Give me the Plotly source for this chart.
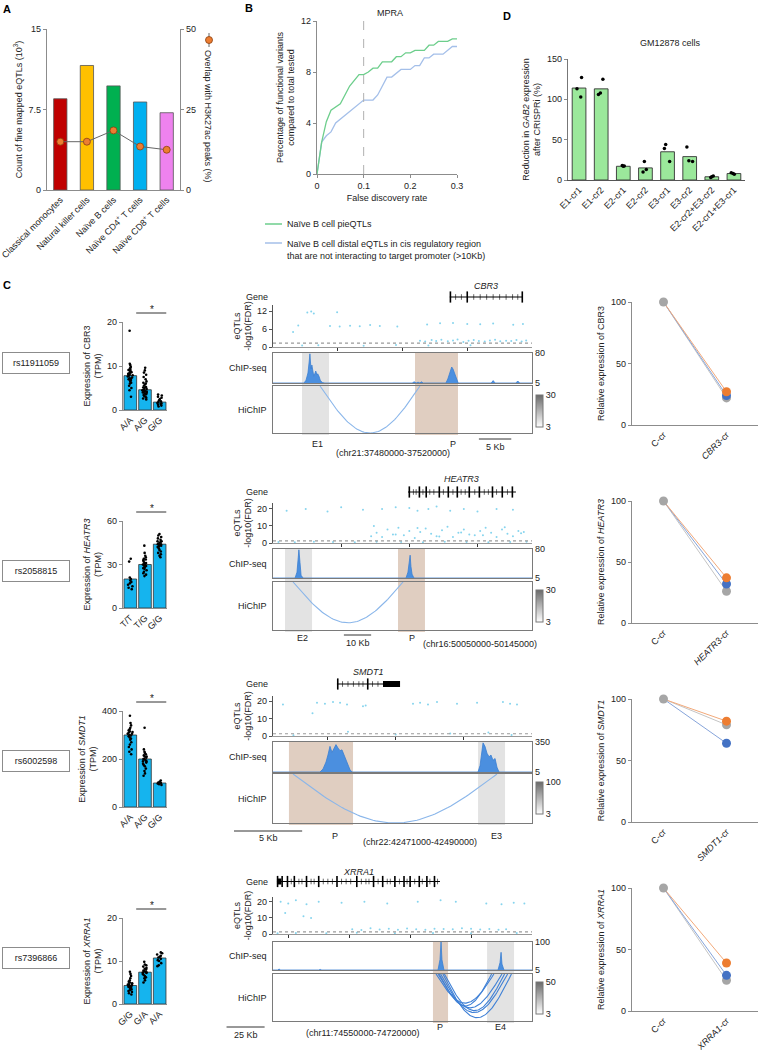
import numpy as np
import plotly.graph_objects as go

# ======================= DATA =======================
# ---- Panel A
cell_types = ["Classical monocytes", "Natural killer cells", "Naïve B cells",
              "Naïve CD4<sup>+</sup> T cells", "Naïve CD8<sup>+</sup> T cells"]
eqtl_count_k = [8.5, 11.6, 9.7, 8.2, 7.2]
h3k27ac_overlap_pct = [15.0, 15.0, 18.5, 13.5, 12.5]
cell_colors = ["#c00000", "#ffc000", "#00b050", "#00b0f0", "#ee82ee"]

# ---- Panel B (MPRA)
fdr_pie = [0, 0.01, 0.02, 0.03, 0.05, 0.07, 0.09, 0.10, 0.11, 0.12, 0.13, 0.14, 0.16,
           0.17, 0.18, 0.19, 0.20, 0.21, 0.23, 0.24, 0.25, 0.26, 0.28, 0.29, 0.30]
pct_pie = [0, 2.5, 4.1, 5.0, 5.5, 6.9, 7.8, 7.8, 8.0, 8.3, 8.3, 8.8, 8.8,
           9.2, 9.2, 9.5, 9.5, 9.7, 9.7, 10.1, 10.1, 10.4, 10.4, 10.6, 10.6]
fdr_distal = [0, 0.01, 0.02, 0.03, 0.04, 0.10, 0.12, 0.13, 0.15, 0.16, 0.18, 0.20,
              0.21, 0.22, 0.23, 0.24, 0.25, 0.27, 0.29, 0.30]
pct_distal = [0, 2.5, 3.0, 3.3, 4.0, 5.8, 5.8, 6.2, 7.6, 7.6, 8.2, 8.2,
              8.5, 8.5, 9.1, 9.1, 9.4, 9.4, 10.0, 10.0]
fdr_cutoff = 0.1

# ---- Panel D (CRISPRi)
crispri_labels = ["E1-cr1", "E1-cr2", "E2-cr1", "E2-cr2", "E3-cr1", "E3-cr2",
                  "E2-cr2+E3-cr2", "E2-cr1+E3-cr1"]
crispri_mean = [114, 113, 17, 15, 35, 29, 4, 8]
crispri_reps = [[127, 113, 103], [125, 108, 106], [18, 17, 17.5], [23, 10, 13],
                [44, 39, 23], [41, 23, 24], [5, 3, 4], [9, 7, 8]]

# ---- Panel C : eQTL genotype expression
snps = ["rs11911059", "rs2058815", "rs6002598", "rs7396866"]
genes = ["CBR3", "HEATR3", "SMDT1", "XRRA1"]
genotypes = [["A/A", "A/G", "G/G"], ["T/T", "T/G", "G/G"],
             ["A/A", "A/G", "G/G"], ["G/G", "G/A", "A/A"]]
expr_mean = [[7.8, 4.6, 1.8], [20, 30, 44], [300, 200, 100], [4.3, 7.4, 10.7]]
expr_ticks = [[0, 10, 20], [0, 30, 60], [0, 200, 400], [0, 10, 20]]
expr_points = [
    [[18, 10.5, 10.2, 9.8, 9.5, 9.2, 9.0, 8.8, 8.6, 8.4, 8.2, 8.0, 7.8, 7.6, 7.4, 7.2, 7.0,
      6.8, 6.5, 6.2, 6.0, 5.5, 5.0, 4.5, 3.0, 8.5, 7.9, 7.1, 6.9, 9.1],
     [9.6, 9.0, 8.5, 8.0, 7.5, 7.0, 6.5, 6.2, 6.0, 5.8, 5.5, 5.2, 5.0, 4.8, 4.6, 4.4, 4.2,
      4.0, 3.8, 3.6, 3.4, 3.2, 3.0, 2.8, 2.6, 2.4, 4.5, 5.1, 3.9, 4.3],
     [3.5, 3.3, 3.0, 2.5, 2.2, 2.0, 1.8, 1.6, 1.5, 1.4, 1.2, 1.0, 0.8, 2.8]],
    [[34, 32, 21, 20, 18, 17, 16, 15, 14, 13, 19],
     [43, 38, 36, 35, 34, 33, 32, 31, 30.5, 30, 29.5, 29, 28.5, 28, 27, 26, 25, 24, 23, 22,
      31, 30, 29, 27.5, 33.5],
     [51, 50, 49, 48, 47, 46, 45.5, 45, 44.5, 44, 43.5, 43, 42, 41, 40, 39, 38, 37, 36, 35,
      46, 44, 42.5]],
    [[380, 350, 340, 330, 320, 315, 310, 305, 300, 295, 290, 285, 280, 270, 260, 250, 240,
      230, 220, 305, 298, 312, 325],
     [330, 240, 230, 225, 220, 215, 210, 205, 200, 195, 190, 185, 180, 175, 170, 160, 150,
      140, 130, 200, 210, 190],
     [110, 105, 102, 100, 98, 95, 92]],
    [[7.5, 7.0, 6.5, 6.0, 5.5, 5.2, 5.0, 4.8, 4.6, 4.4, 4.2, 4.0, 3.8, 3.6, 3.4, 3.2, 3.0,
      2.8, 2.5, 2.2, 4.5, 4.1, 3.9],
     [9.8, 9.2, 9.0, 8.7, 8.4, 8.2, 8.0, 7.8, 7.6, 7.4, 7.2, 7.0, 6.8, 6.5, 6.2, 6.0, 5.5,
      5.0, 7.5, 7.3],
     [12, 11.8, 11.5, 11.2, 11.0, 10.8, 10.5, 10.2, 10.0, 9.5, 9.0, 8.8]],
]

# ---- Panel C : genomic tracks (positions in kb from region start)
regions = [("chr21", 37480000, 37520000), ("chr16", 50050000, 50145000),
           ("chr22", 42471000, 42490000), ("chr11", 74550000, 74720000)]
gene_span_kb = [(27.3, 38.6), (49.5, 89.1), (4.69, 9.32), (2.6, 109.6)]
gene_exon_kb = [[27.4, 30.0, 38.5],
                [50.0, 53.7, 56.2, 61.0, 64.3, 67.6, 72.0, 75.7, 80.5, 84.1, 87.8],
                [4.75, 6.95],
                [3.0, 6.0, 9.5, 14, 22, 30, 42, 55, 66, 72, 80, 86, 90, 96, 101, 106]]
gene_intron_kb = [[28.2, 29.1, 31.0, 32.0, 33.0, 34.0, 35.0, 36.0, 37.0, 37.8],
                  [51.5, 52.5, 55, 57.5, 59, 62.5, 66, 69, 70.5, 74, 77.5, 79, 82, 86],
                  [5.1, 5.5, 5.9, 6.3, 6.6, 7.3, 7.7],
                  [12, 17, 19, 25, 27, 33, 36, 39, 45, 48, 51, 58, 61, 63, 69, 75, 77, 83,
                   88, 93, 98, 103, 108]]
gene_thick_kb = [None, None, (8.07, 9.32), (2.6, 5.5)]

eqtl_kb = [
    [5.3, 5.9, 6.3, 9.9, 3.1, 3.9, 8.8, 10.3, 11.9, 13.4, 15.0, 16.5, 19.2, 23.8, 25.8, 27.8,
     30.0, 32.0, 34.0, 37.1, 38.6, 22.7, 23.5, 24.5, 25.2, 26.0, 27.0, 27.8, 28.5, 29.4, 30.2,
     31.0, 31.8, 32.7, 33.5, 34.3, 35.1, 36.0, 36.8, 37.6, 38.4, 39.1, 4.5, 7.0, 14.0, 19.0,
     24.0, 30.5],
    [5, 12, 20, 25, 33, 40, 45, 50, 53, 57, 60, 65, 70, 75, 82, 88,
     36, 38, 40, 42, 44, 46, 48, 50, 52, 54, 56, 58, 60, 62, 64, 66, 68, 70, 72, 74, 76, 78,
     80, 82, 84, 86, 88, 90, 92, 37, 45, 53, 61, 69, 77, 85, 91,
     2, 8, 15, 22, 30, 38, 47, 55, 63, 71, 79, 87, 93],
    [0.73, 3.23, 3.81, 4.40, 4.92, 5.43, 6.60, 10.27, 10.79, 11.37, 12.03, 13.50, 14.97,
     16.87, 17.39, 17.90, 2.9, 6.8, 1.5, 5.5, 9.0, 13.0, 15.8, 17.5],
    [5, 10, 15, 22, 30, 45, 60, 75, 95, 110, 120, 140, 150, 158, 165, 8, 20, 25,
     52, 58, 64, 70, 76, 82, 88, 94, 100, 106, 112, 118, 124, 130, 136, 142, 148, 153,
     3, 15, 35, 55, 80, 105, 130, 160],
]
eqtl_logfdr = [
    [11.5, 11.8, 11.2, 11.6, 5.0, 7.2, 7.0, 6.8, 7.1, 6.9, 7.3, 7.0, 6.8, 7.5, 7.9, 8.0,
     7.7, 7.6, 7.8, 7.4, 7.7, 2.1, 1.8, 2.3, 2.0, 2.4, 1.9, 2.2, 2.5, 1.7, 2.1,
     2.3, 2.0, 1.8, 2.2, 2.4, 1.9, 2.1, 2.0, 2.3, 1.8, 2.2, 0.5, 0.6, 0.4, 0.7,
     0.5, 0.6],
    [19, 20, 18.5, 21, 19.5, 20, 21, 20.5, 19, 20, 21.5, 19, 20, 18.5, 20, 19.5,
     4, 6, 3.5, 8, 5, 9, 4.5, 7, 3, 6.5, 8.5, 5.5, 4, 7.5, 9.5, 3.5, 6, 8, 5, 4.5, 7, 9,
     6, 3.5, 8, 5.5, 4, 7, 6.5, 10, 5, 8.8, 3.8, 6.2, 4.6, 9.2, 5.8,
     0.6, 0.5, 0.7, 0.6, 0.5, 0.8, 0.6, 0.5, 0.7, 0.6, 0.5, 0.6, 0.7],
    [18, 19, 18.5, 19.5, 19, 18, 17, 18.5, 19, 18, 19.5, 18.5, 19,
     19.5, 18.5, 18, 13, 17.5, 0.5, 2.5, 0.8, 1.5, 2.0, 0.6],
    [20, 19, 21, 18.5, 20, 19.5, 20, 19, 20, 21, 20, 19, 18.5, 19.5, 19, 13, 11, 10,
     3, 2.5, 3.5, 2.8, 3.2, 2.6, 3.4, 3.0, 2.7, 3.3, 3.1, 2.9, 3.6, 3.2, 2.8, 3.1, 2.6, 3.0,
     0.5, 0.6, 0.5, 0.7, 0.5, 0.6, 0.5, 0.6],
]
eqtl_ticks = [[0, 6, 12], [0, 10, 20], [0, 10, 20], [0, 10, 20]]
eqtl_axis_tick_kb = [[10, 20, 30], [25, 50, 75], [4, 9, 14], [10, 50, 90, 130]]
fdr_threshold = 1.3

chip_kb = [
    [0, 4.8, 5.1, 5.25, 5.4, 5.6, 5.7, 5.8, 5.9, 6.0, 6.2, 6.3, 6.5, 6.6, 6.8, 6.9, 7.1, 7.3,
     7.6, 8.0, 21.5, 21.8, 22.1, 22.4, 22.7, 22.9, 23.2, 26.7, 27.0, 27.3, 27.5, 27.6, 27.8,
     27.9, 28.1, 28.3, 28.6, 33.7, 34.0, 34.3, 37.5, 37.8, 38.1, 40],
    [0, 8.1, 8.8, 9.2, 9.5, 9.9, 10.3, 11.0, 48.8, 49.5, 49.9, 50.3, 50.6, 51.0, 51.7, 95],
    [0, 3.45, 3.67, 3.89, 4.03, 4.18, 4.33, 4.47, 4.62, 4.77, 4.92, 5.06, 5.21, 5.36, 5.50,
     5.65, 5.80, 15.04, 15.19, 15.33, 15.41, 15.55, 15.70, 15.85, 15.99, 16.14, 16.29,
     16.43, 16.58, 19],
    [0, 3, 4, 5, 30, 31, 32, 68, 69, 70, 108.3, 109.6, 110.3, 110.9, 112.2, 147.7, 149.0,
     149.7, 150.3, 151.6, 170],
]
chip_signal = [
    [5, 5, 12, 20, 30, 60, 78, 55, 40, 50, 28, 22, 30, 35, 25, 28, 22, 12,
     6, 5, 5, 8, 5, 7, 5, 8, 5, 5, 15, 30, 38, 45, 40,
     35, 25, 15, 5, 5, 11, 5, 5, 10, 5, 5],
    [5, 5, 20, 50, 78, 45, 12, 5, 5, 20, 45, 64, 35, 15, 5, 5],
    [5, 5, 40, 120, 200, 300, 230, 270, 320, 280, 250, 260, 200, 150, 90,
     30, 5, 5, 80, 250, 340, 300, 220, 180, 200, 140, 160,
     60, 5, 5],
    [5, 5, 8, 5, 5, 7, 5, 5, 7, 5, 5, 40, 100, 40, 5, 5, 30,
     65, 25, 5, 5],
]
chip_max = [80, 80, 350, 100]
hichip_max = [30, 30, 100, 50]

# highlighted regions: (label, start_kb, end_kb, label_kb, kind)
highlights = [
    [("E1", 4.48, 8.65, 6.9, "enh"), ("P", 21.93, 28.57, 27.8, "prom")],
    [("E2", 4.40, 14.31, 11.0, "enh"), ("P", 45.85, 55.75, 51.0, "prom")],
    [("P", 1.17, 5.87, 4.55, "prom"), ("E3", 15.04, 17.02, 16.36, "enh")],
    [("P", 105.0, 114.9, 109.6, "prom"), ("E4", 140.5, 158.2, 149.0, "enh")],
]
# HiChIP loops: (anchor1_kb, anchor2_kb, relative depth)
loops = [
    [(7.26, 22.7, 1.0)],
    [(7.34, 47.7, 0.85)],
    [(1.47, 16.43, 1.0)],
    [(107.0, 145.0, 0.62), (108.3, 150.3, 0.72), (110.0, 154.0, 0.82),
     (111.5, 156.5, 0.93), (109.0, 143.5, 0.68), (112.5, 152.0, 0.78)],
]
scale_kb = [5, 10, 5, 25]
scale_start_kb = [31.8, 26.0, -2.86, -30.5]

# ---- Panel C : CRISPRi relative expression
rel_categories = [["C-cr", "<i>%s</i>-cr" % g] for g in genes]
rel_control = [100, 100, 100, 100]
rel_gray = [22, 26, 79, 25]
rel_blue = [24, 32, 64, 29]
rel_orange = [27, 37, 82, 39]

# ======================= HELPERS =======================
W, H = 760, 1050
FONT = "Liberation Sans, Arial, sans-serif"
AXC = "#8c8c8c"
TXT = "#222222"


def px_x(a):
    return a / W


def px_y(b):
    return 1 - b / H


def xd(a, b):
    return [a / W, b / W]


def yd(top, bottom):
    return [1 - bottom / H, 1 - top / H]


BASE = dict(showgrid=False, zeroline=False, showline=True, linecolor=AXC, linewidth=1.2,
            ticks="outside", ticklen=3, tickcolor=AXC, tickfont=dict(size=9, color=TXT),
            automargin=False)

fig = go.Figure()
axes_layout = {}
shapes = []
annotations = []
counter = [0]


def new_axes(xdom, ydom, xa=None, ya=None):
    counter[0] += 1
    s = "" if counter[0] == 1 else str(counter[0])
    xdict = dict(domain=xdom, anchor="y" + s, automargin=False)
    ydict = dict(domain=ydom, anchor="x" + s, automargin=False)
    xdict.update(xa or {})
    ydict.update(ya or {})
    axes_layout["xaxis" + s] = xdict
    axes_layout["yaxis" + s] = ydict
    return "x" + s, "y" + s


def ann(text, x, y, **kw):
    d = dict(text=text, x=px_x(x), y=px_y(y), xref="paper", yref="paper", showarrow=False,
             xanchor="center", yanchor="middle", font=dict(size=9, color=TXT))
    d.update(kw)
    annotations.append(d)


def dann(text, xref, x, y, **kw):
    d = dict(text=text, xref=xref, yref="paper", x=x, y=px_y(y), showarrow=False,
             xanchor="center", yanchor="middle", font=dict(size=9, color=TXT))
    d.update(kw)
    annotations.append(d)


# panel letters
for letter, lx, ly in [("A", 7, 9), ("B", 249, 8), ("C", 7, 285), ("D", 507, 16)]:
    ann("<b>%s</b>" % letter, lx, ly, font=dict(size=11, color="black"))

# ======================= PANEL A =======================
xa_, ya_ = new_axes(xd(47, 180), yd(29, 190),
                    xa=dict(BASE, type="category", tickangle=-45, ticks=""),
                    ya=dict(BASE, range=[0, 15], tickvals=[0, 7.5, 15], ticktext=["0", "7.5", "15"],
                            title=dict(text="Count of fine mapped eQTLs (10<sup>3</sup>)",
                                       font=dict(size=9), standoff=4)))
counter[0] += 1
ya2_ = "y" + str(counter[0])
axes_layout["yaxis" + str(counter[0])] = dict(BASE, overlaying=ya_, side="right", anchor=xa_,
                                              range=[0, 50], tickvals=[0, 25, 50])
fig.add_trace(go.Bar(x=cell_types, y=eqtl_count_k, width=0.5,
                     marker=dict(color=cell_colors, line=dict(color="#555", width=0.8)),
                     xaxis=xa_, yaxis=ya_))
fig.add_trace(go.Scatter(x=cell_types, y=h3k27ac_overlap_pct, mode="lines+markers",
                         line=dict(color="#666", width=1),
                         marker=dict(color="#ed7d31", size=7, line=dict(color="#8a4010", width=0.8)),
                         xaxis=xa_, yaxis=ya2_, cliponaxis=False))
ann("Overlap with H3K27ac peaks (%)", 208, 116, textangle=90)
shapes.append(dict(type="line", xref="paper", yref="paper", x0=px_x(209), x1=px_x(209),
                   y0=px_y(33), y1=px_y(47), line=dict(color="#666", width=1)))
shapes.append(dict(type="circle", xref="paper", yref="paper", x0=px_x(205.5), x1=px_x(212.5),
                   y0=px_y(43.5), y1=px_y(36.5), fillcolor="#ed7d31",
                   line=dict(color="#8a4010", width=0.8)))

# ======================= PANEL B =======================
xb_, yb_ = new_axes(xd(317, 457), yd(21, 174),
                    xa=dict(BASE, range=[0, 0.3], tickvals=[0, 0.1, 0.2, 0.3],
                            ticktext=["0", "0.1", "0.2", "0.3"],
                            title=dict(text="False discovery rate", font=dict(size=9), standoff=4)),
                    ya=dict(BASE, range=[0, 12], tickvals=[0, 4, 8, 12],
                            title=dict(text="Percentage of functional variants<br>compared to total tested",
                                       font=dict(size=9), standoff=4)))
GREEN_B = "#6dce8c"
BLUE_B = "#a4bfe9"
fig.add_trace(go.Scatter(x=fdr_distal, y=pct_distal, mode="lines", line=dict(color=BLUE_B, width=1.3),
                         xaxis=xb_, yaxis=yb_))
fig.add_trace(go.Scatter(x=fdr_pie, y=pct_pie, mode="lines", line=dict(color=GREEN_B, width=1.3),
                         xaxis=xb_, yaxis=yb_))
shapes.append(dict(type="line", xref=xb_, yref=yb_, x0=fdr_cutoff, x1=fdr_cutoff, y0=0, y1=12,
                   line=dict(color="#b0b0b0", width=1, dash="dash")))
ann("MPRA", 390, 13)
shapes.append(dict(type="line", xref="paper", yref="paper", x0=px_x(265), x1=px_x(282),
                   y0=px_y(224), y1=px_y(224), line=dict(color=GREEN_B, width=1.5)))
shapes.append(dict(type="line", xref="paper", yref="paper", x0=px_x(265), x1=px_x(282),
                   y0=px_y(243), y1=px_y(243), line=dict(color=BLUE_B, width=1.5)))
ann("Naïve B cell pieQTLs", 285, 224, xanchor="left")
ann("Naïve B cell distal eQTLs in cis regulatory region<br>that are not interacting to target promoter (>10Kb)",
    285, 237, xanchor="left", yanchor="top", align="left")

# ======================= PANEL D =======================
xdd, ydd = new_axes(xd(568, 745), yd(59, 180),
                    xa=dict(BASE, type="category", tickangle=-45, ticks="", linecolor="#555"),
                    ya=dict(BASE, range=[0, 150], tickvals=[0, 50, 100, 150], linecolor="#777",
                            title=dict(text="Reduction in <i>GAB2</i> expression<br>after CRISPRi (%)",
                                       font=dict(size=9), standoff=4)))
fig.add_trace(go.Bar(x=crispri_labels, y=crispri_mean, width=0.62,
                     marker=dict(color="#9be89b", line=dict(color="#333", width=0.9)),
                     xaxis=xdd, yaxis=ydd))
fig.add_trace(go.Box(x=[lab for lab, reps in zip(crispri_labels, crispri_reps) for _ in reps],
                     y=[v for reps in crispri_reps for v in reps],
                     boxpoints="all", jitter=0.6, pointpos=0, fillcolor="rgba(0,0,0,0)",
                     line=dict(width=0, color="rgba(0,0,0,0)"),
                     marker=dict(size=3.5, color="black"), xaxis=xdd, yaxis=ydd))
ann("GM12878 cells", 670, 43)

# ======================= PANEL C =======================
BARPOS = [(322, 410), (521, 608), (711, 807), (918, 1004)]
RELPOS = [(302, 425), (501, 623), (699, 822), (888, 1011)]
SNPY = [363, 571, 761, 958]
TRK = [
    dict(name_y=286, g=(291, 303), q=(305, 347), c=(353, 383), h=(386, 433), lab_y=444,
         chr_xy=(393, 453), sb=(439, 447), cb=411, qmax=14),
    dict(name_y=479, g=(486, 498), q=(503, 543), c=(549, 578), h=(582, 630), lab_y=638,
         chr_xy=(480, 644), sb=(635, 643), cb=606, qmax=23.5),
    dict(name_y=672, g=(678, 690), q=(696, 736), c=(742, 772), h=(774, 823), lab_y=836,
         chr_xy=(420, 842), sb=(831, 838), cb=798, qmax=22.9),
    dict(name_y=872, g=(876, 887), q=(897, 934), c=(942, 970), h=(974, 1021), lab_y=1027,
         chr_xy=(362, 1033), sb=(1027, 1035), cb=998, qmax=23),
]
TX0, TX1 = 273, 532
BAR_BLUE = "#15b4ee"

for i in range(4):
    chrom, rs, re_ = regions[i]
    span = re_ - rs
    T = TRK[i]

    def gx(kb, rs=rs):
        return rs + kb * 1000.0

    # ---------- SNP box
    ann(snps[i], 36, SNPY[i], bordercolor="#8c8c8c", borderwidth=1, borderpad=5, width=56,
        font=dict(size=9, color=TXT))

    # ---------- genotype bar chart
    top, bot = BARPOS[i]
    gene_txt = genes[i] if i == 0 else "<i>%s</i>" % genes[i]
    xbar, ybar = new_axes(xd(123, 167), yd(top, bot),
                          xa=dict(BASE, type="category", tickangle=-45, ticks=""),
                          ya=dict(BASE, range=[0, expr_ticks[i][-1]], tickvals=expr_ticks[i],
                                  title=dict(text="Expression of %s<br>(TPM)" % gene_txt,
                                             font=dict(size=9), standoff=3)))
    fig.add_trace(go.Bar(x=genotypes[i], y=expr_mean[i], width=0.86,
                         marker=dict(color=BAR_BLUE, line=dict(color="#333", width=0.8)),
                         xaxis=xbar, yaxis=ybar))
    fig.add_trace(go.Box(x=[g for g, pts in zip(genotypes[i], expr_points[i]) for _ in pts],
                         y=[v for pts in expr_points[i] for v in pts],
                         boxpoints="all", jitter=0.75, pointpos=0, fillcolor="rgba(0,0,0,0)",
                         line=dict(width=0, color="rgba(0,0,0,0)"),
                         marker=dict(size=2.6, color="black"), xaxis=xbar, yaxis=ybar))
    shapes.append(dict(type="line", xref=xbar, yref="paper", x0=0.4, x1=2.45,
                       y0=px_y(top - 9), y1=px_y(top - 9), line=dict(color="#333", width=1)))
    dann("*", xbar, 1.45, top - 13, font=dict(size=10, color=TXT))

    # ---------- gene model
    xg, yg = new_axes(xd(TX0, TX1), yd(*T["g"]),
                      xa=dict(range=[rs, re_], visible=False),
                      ya=dict(range=[-1, 1], visible=False))
    g0, g1 = gene_span_kb[i]
    fig.add_trace(go.Scatter(x=[gx(g0), gx(g1)], y=[0, 0], mode="lines",
                             line=dict(color="black", width=1.2), xaxis=xg, yaxis=yg))
    fig.add_trace(go.Scatter(x=[gx(k) for k in gene_intron_kb[i]], y=[0] * len(gene_intron_kb[i]),
                             mode="markers", marker=dict(symbol="line-ns", size=4,
                                                         line=dict(width=0.6, color="black")),
                             xaxis=xg, yaxis=yg, cliponaxis=False))
    fig.add_trace(go.Scatter(x=[gx(k) for k in gene_exon_kb[i]], y=[0] * len(gene_exon_kb[i]),
                             mode="markers", marker=dict(symbol="line-ns", size=8,
                                                         line=dict(width=1.6, color="black")),
                             xaxis=xg, yaxis=yg, cliponaxis=False))
    if gene_thick_kb[i] is not None:
        t0, t1 = gene_thick_kb[i]
        fig.add_trace(go.Scatter(x=[gx(t0), gx(t1)], y=[0, 0], mode="lines",
                                 line=dict(color="black", width=6), xaxis=xg, yaxis=yg))
    dann("<i>%s</i>" % genes[i], xg, gx((g0 + g1) / 2), T["name_y"])
    gy = (T["g"][0] + T["g"][1]) / 2
    ann("Gene", 270, gy, xanchor="right")

    # ---------- eQTL track
    xq, yq = new_axes(xd(TX0, TX1), yd(*T["q"]),
                      xa=dict(range=[rs, re_], showgrid=False, zeroline=False, showline=True,
                              linecolor="#999", ticks="outside", ticklen=3, tickcolor="#333",
                              tickvals=[gx(k) for k in eqtl_axis_tick_kb[i]], showticklabels=False),
                      ya=dict(BASE, range=[0, T["qmax"]], tickvals=eqtl_ticks[i], linecolor="#555",
                              tickcolor="#555",
                              title=dict(text="eQTLs<br>-log10(FDR)", font=dict(size=9), standoff=3)))
    fig.add_trace(go.Scatter(x=[gx(k) for k in eqtl_kb[i]], y=eqtl_logfdr[i], mode="markers",
                             marker=dict(size=2, color="#86d4ee"), xaxis=xq, yaxis=yq))
    shapes.append(dict(type="line", xref=xq + " domain", yref=yq, x0=0, x1=1,
                       y0=fdr_threshold, y1=fdr_threshold,
                       line=dict(color="#9a9a9a", width=1.2, dash="dot")))

    # ---------- ChIP-seq track
    cmax = chip_max[i]
    xc, yc = new_axes(xd(TX0, TX1), yd(*T["c"]),
                      xa=dict(range=[rs, re_], showgrid=False, zeroline=False, showline=True,
                              mirror=True, linecolor="#7a7a7a", linewidth=1.3, ticks="",
                              showticklabels=False),
                      ya=dict(range=[5, cmax], side="right", tickvals=[5, cmax], ticks="",
                              showgrid=False, zeroline=False, showline=True, mirror=True,
                              linecolor="#7a7a7a", linewidth=1.3, tickfont=dict(size=9, color=TXT)))
    fig.add_trace(go.Scatter(x=[gx(k) for k in chip_kb[i]], y=chip_signal[i], mode="lines",
                             fill="tozeroy", fillcolor="#4b8fdf",
                             line=dict(color="#3a7fd2", width=0.8), xaxis=xc, yaxis=yc))
    ann("ChIP-seq", 269, (T["c"][0] + T["c"][1]) / 2, xanchor="right")

    # ---------- HiChIP track
    xh, yh = new_axes(xd(TX0, TX1), yd(*T["h"]),
                      xa=dict(range=[rs, re_], showgrid=False, zeroline=False, showline=True,
                              mirror=True, linecolor="#7a7a7a", linewidth=1.3, ticks="",
                              showticklabels=False),
                      ya=dict(range=[-1, 0], showgrid=False, zeroline=False, showline=True,
                              mirror=True, linecolor="#7a7a7a", linewidth=1.3, ticks="",
                              showticklabels=False))
    arc_color = "#3f80d6" if i == 3 else "#8ab6ea"
    for (a, b, depth) in loops[i]:
        t = np.linspace(0, 1, 80)
        fig.add_trace(go.Scatter(x=gx(a) + (gx(b) - gx(a)) * t, y=-depth * np.sin(np.pi * t),
                                 mode="lines", line=dict(color=arc_color, width=1.1),
                                 xaxis=xh, yaxis=yh))
    hm = hichip_max[i]
    fig.add_trace(go.Scatter(x=[rs], y=[5], mode="markers", xaxis=xh, yaxis=yh,
                             marker=dict(color=[3], cmin=3, cmax=hm, opacity=0,
                                         colorscale=[[0, "#ffffff"], [1, "#6a6a6a"]],
                                         showscale=True,
                                         colorbar=dict(x=px_x(536), xanchor="left", y=px_y(T["cb"]),
                                                       yanchor="middle", len=32, lenmode="pixels",
                                                       thickness=7, outlinecolor="#777",
                                                       outlinewidth=1, tickvals=[3, hm], ticks="",
                                                       tickfont=dict(size=9, color=TXT),
                                                       xpad=0, ypad=0))))
    ann("HiChIP", 269, (T["h"][0] + T["h"][1]) / 2, xanchor="right")

    # highlights + labels
    for (lab, s0, s1, lk, kind) in highlights[i]:
        col = "rgba(214,190,172,0.75)" if kind == "prom" else "rgba(215,215,215,0.7)"
        shapes.append(dict(type="rect", xref=xh, yref="paper", x0=gx(s0), x1=gx(s1),
                           y0=px_y(T["h"][1] + 2), y1=px_y(T["c"][0]), fillcolor=col,
                           line=dict(width=0), layer="below"))
        dann(lab, xh, gx(lk), T["lab_y"])

    # scale bar
    sx0 = TX0 + scale_start_kb[i] * 1000.0 / span * (TX1 - TX0)
    sx1 = sx0 + scale_kb[i] * 1000.0 / span * (TX1 - TX0)
    shapes.append(dict(type="line", xref="paper", yref="paper", x0=px_x(sx0), x1=px_x(sx1),
                       y0=px_y(T["sb"][0]), y1=px_y(T["sb"][0]), line=dict(color="#333", width=1)))
    ann("%d Kb" % scale_kb[i], (sx0 + sx1) / 2, T["sb"][1])
    ann("(%s:%d-%d)" % (chrom, rs, re_), T["chr_xy"][0], T["chr_xy"][1])

    # ---------- relative expression (CRISPRi)
    rtop, rbot = RELPOS[i]
    rel_gene = genes[i] if i == 0 else "<i>%s</i>" % genes[i]
    xr, yr = new_axes(xd(632, 758), yd(rtop, rbot),
                      xa=dict(BASE, type="category", range=[-0.5, 1.5], tickangle=-45, ticks="",
                              categoryorder="array", categoryarray=rel_categories[i]),
                      ya=dict(BASE, range=[0, 100], tickvals=[0, 50, 100],
                              title=dict(text="Relative expression of %s" % rel_gene,
                                         font=dict(size=9), standoff=4)))
    series = [(rel_gray[i], "#c4c4c4", "#a6a6a6"), (rel_blue[i], "#86a4da", "#4472c4"),
              (rel_orange[i], "#f2a97a", "#ed7d31")]
    for val, lc, mc in series:
        fig.add_trace(go.Scatter(x=rel_categories[i], y=[rel_control[i], val], mode="lines",
                                 line=dict(color=lc, width=1), xaxis=xr, yaxis=yr, cliponaxis=False))
    for val, lc, mc in series:
        fig.add_trace(go.Scatter(x=[rel_categories[i][1]], y=[val], mode="markers",
                                 marker=dict(color=mc, size=9), xaxis=xr, yaxis=yr, cliponaxis=False))
    fig.add_trace(go.Scatter(x=[rel_categories[i][0]], y=[rel_control[i]], mode="markers",
                             marker=dict(color="#a6a6a6", size=9), xaxis=xr, yaxis=yr,
                             cliponaxis=False))

fig.update_layout(template="none", width=W, height=H, margin=dict(l=0, r=0, t=0, b=0),
                  autosize=False, paper_bgcolor="white", plot_bgcolor="rgba(0,0,0,0)",
                  showlegend=False, hovermode=False, font=dict(family=FONT, size=9, color=TXT),
                  shapes=shapes, annotations=annotations, **axes_layout)
fig.write_html("out.html", config={"displayModeBar": False, "staticPlot": True},
               post_script="document.body.style.margin='0px';")
